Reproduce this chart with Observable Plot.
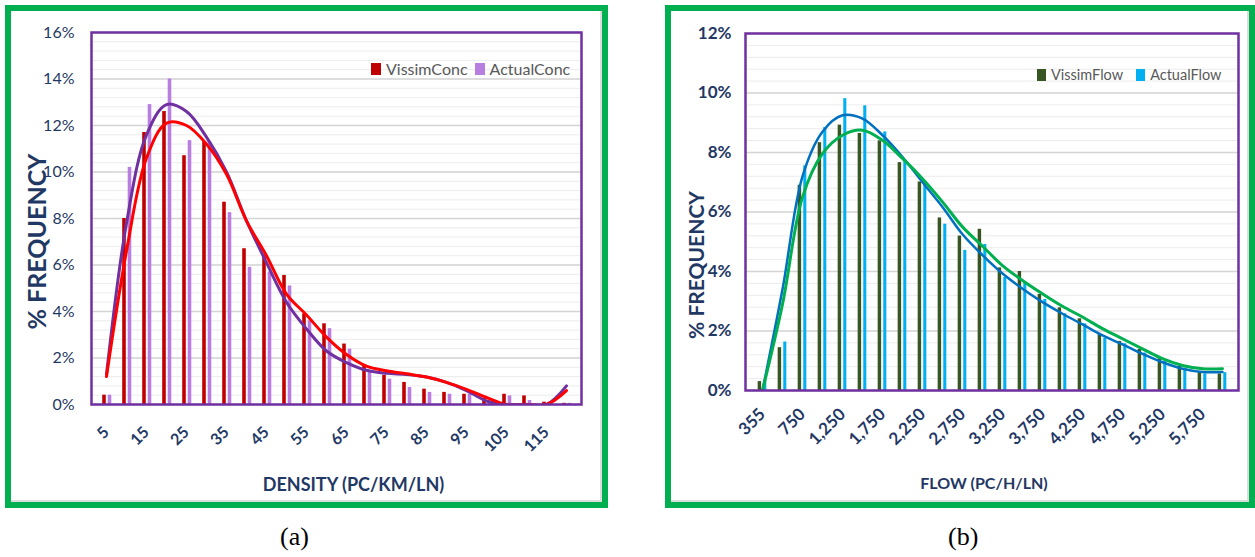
<!DOCTYPE html>
<html><head><meta charset="utf-8">
<script src="https://cdn.jsdelivr.net/npm/d3@7"></script>
<script src="https://cdn.jsdelivr.net/npm/@observablehq/plot@0.6"></script>
<style>
body{margin:0;background:#fff;}
#wrap{position:relative;width:1255px;height:557px;overflow:hidden;font-family:Lato,sans-serif;background:#fff;}
.panel{position:absolute;border:6px solid #00b050;box-sizing:border-box;}
.panel .shade{position:absolute;inset:0;border-right:2px solid #dcdcdc;border-bottom:2px solid #dcdcdc;}
.chart{position:absolute;}
.legend{position:absolute;display:flex;align-items:center;font-size:16px;color:#595959;white-space:nowrap;}
.legend .sw{display:inline-block;width:10px;height:12px;margin-right:5px;}
.legend .item{display:flex;align-items:center;}
.cap{position:absolute;font-family:"Liberation Serif",serif;font-size:26px;color:#000;}
</style>
</head><body>
<div id="wrap">
  <div class="panel" style="left:5px;top:5px;width:603px;height:503px;"><div class="shade"></div></div>
  <div class="panel" style="left:665px;top:5px;width:590px;height:503px;"><div class="shade"></div></div>
  <div class="chart" id="chartA" style="left:11px;top:11px;"></div>
  <div class="chart" id="chartB" style="left:671px;top:11px;"></div>
  <div class="legend" style="left:371px;top:59px;">
    <span class="item"><span class="sw" style="background:#c00000"></span>VissimConc</span>
    <span class="item" style="margin-left:7px"><span class="sw" style="background:#b87ee0"></span>ActualConc</span>
  </div>
  <div class="legend" style="left:1037px;top:66px;font-size:14.5px;">
    <span class="item"><span class="sw" style="background:#375623;width:9px"></span>VissimFlow</span>
    <span class="item" style="margin-left:13px"><span class="sw" style="background:#00b0f0;width:9px"></span>ActualFlow</span>
  </div>
  <div class="cap" style="left:280px;top:522px;">(a)</div>
  <div class="cap" style="left:948px;top:522px;">(b)</div>
</div>
<script>
// ---------- Data: (a) density ----------
const densityCats = [5,10,15,20,25,30,35,40,45,50,55,60,65,70,75,80,85,90,95,100,105,110,115,120];
const densityTickLabels = [5,15,25,35,45,55,65,75,85,95,105,115];
const vissimConc = [0.4,8.0,11.7,12.6,10.7,11.3,8.7,6.7,6.4,5.55,3.9,3.47,2.6,1.7,1.25,0.95,0.66,0.52,0.44,0.27,0.44,0.37,0.1,0.05];
const actualConc = [0.4,10.2,12.9,14.0,11.35,11.3,8.25,5.9,5.7,5.1,3.6,3.26,2.38,1.42,1.09,0.73,0.52,0.44,0.44,0.1,0.37,0.17,0.1,0.05];
const vissimConcFit = [1.2,6.6,10.6,12.1,12.0,11.2,9.9,7.9,6.4,4.75,3.85,2.9,2.15,1.65,1.45,1.32,1.18,0.95,0.65,0.3,0,0,0,0.6];
const actualConcFit = [1.3,7.8,11.6,12.9,12.6,11.5,10.0,7.9,6.1,4.4,3.25,2.3,1.8,1.47,1.34,1.29,1.18,0.95,0.6,0.15,0,0,0,0.8];
const densityYTicks = [0,2,4,6,8,10,12,14,16];

// ---------- Data: (b) flow ----------
const flowCats = ["355","500","750","1,000","1,250","1,500","1,750","2,000","2,250","2,500","2,750","3,000","3,250","3,500","3,750","4,000","4,250","4,500","4,750","5,000","5,250","5,500","5,750","6,000"];
const flowTickLabels = ["355","750","1,250","1,750","2,250","2,750","3,250","3,750","4,250","4,750","5,250","5,750"];
const vissimFlow = [0.3,1.44,6.9,8.33,8.92,8.64,8.39,7.66,7.01,5.8,5.19,5.42,4.12,4.0,3.23,2.78,2.41,1.88,1.65,1.38,1.07,0.82,0.62,0.56];
const actualFlow = [0.35,1.63,7.55,8.84,9.81,9.57,8.69,7.74,6.95,5.59,4.71,4.91,3.8,3.6,3.06,2.58,2.24,1.76,1.57,1.26,0.99,0.75,0.56,0.6];
const vissimFlowFit = [0,2.9,6.5,7.96,8.58,8.75,8.41,7.8,7.12,6.34,5.5,4.85,4.2,3.7,3.25,2.83,2.47,2.08,1.74,1.4,1.07,0.84,0.73,0.73];
const actualFlowFit = [0,3.4,7.2,8.7,9.25,9.14,8.58,7.85,7.0,6.17,5.25,4.55,3.93,3.42,2.97,2.58,2.22,1.85,1.55,1.23,0.95,0.73,0.62,0.62];
const flowYTicks = [0,2,4,6,8,10,12];

const navy = "#1f3864";

function makeChart(o) {
  const innerW = o.width - o.ml - o.mr;
  const bw = innerW / o.cats.length;
  const rows = (vals) => o.cats.map((c, i) => ({c, v: vals[i]}));
  const minor = d3.range(0, o.ymax + 1e-9, 0.4);
  const pctFmt = d => d + "%";
  return Plot.plot({
    width: o.width, height: o.height,
    marginLeft: o.ml, marginRight: o.mr, marginTop: o.mt, marginBottom: o.mb,
    style: {fontFamily: "Lato, sans-serif", fontSize: "16px", color: navy, background: "transparent"},
    x: {type: "band", domain: o.cats, padding: 0},
    y: {domain: [0, o.ymax]},
    marks: [
      Plot.ruleY(minor, {stroke: "#ececec", strokeWidth: 1}),
      Plot.ruleY(o.yTicks, {stroke: "#d4d4d4", strokeWidth: 1.5}),
      Plot.barY(rows(o.s1), {x: "c", y: "v", fill: o.c1, insetLeft: bw/2 + o.b1[0], insetRight: bw/2 - o.b1[1]}),
      Plot.barY(rows(o.s2), {x: "c", y: "v", fill: o.c2, insetLeft: bw/2 + o.b2[0], insetRight: bw/2 - o.b2[1]}),
      Plot.line(rows(o.f2), {x: "c", y: "v", stroke: o.lc2, strokeWidth: o.lw2, curve: "catmull-rom", clip: true}),
      Plot.line(rows(o.f1), {x: "c", y: "v", stroke: o.lc1, strokeWidth: o.lw1, curve: "catmull-rom", clip: true}),
      Plot.frame({stroke: "#7030a0", strokeWidth: 2.5}),
      Plot.axisY({ticks: o.yTicks, tickFormat: pctFmt, tickSize: 0, tickPadding: o.ytp, fontSize: o.yfs, fontWeight: o.yfw, label: null}),
      Plot.axisX({ticks: o.xTicks, tickSize: 0, tickPadding: o.xtp, tickRotate: -45, fontSize: o.xfs, fontWeight: "bold", label: null}),
      Plot.text([o.ylabel], {text: d => d, frameAnchor: "left", textAnchor: "middle", dx: o.ylx, dy: o.yly, rotate: -90, fontSize: o.ylfs, fontWeight: "bold", fill: navy}),
      Plot.text([o.xlabel], {text: d => d, frameAnchor: "bottom", textAnchor: "middle", dx: o.xlx, dy: o.xly, lineAnchor: "middle", fontSize: o.xlfs, fontWeight: "bold", fill: navy})
    ]
  });
}

document.getElementById("chartA").append(makeChart({
  width: 591, height: 491, ml: 80, mr: 21, mt: 21, mb: 98,
  cats: densityCats, ymax: 16, yTicks: densityYTicks, xTicks: densityTickLabels,
  s1: vissimConc, s2: actualConc, c1: "#c00000", c2: "#b87ee0",
  b1: [-4, 0], b2: [1.5, 5.5],
  f1: vissimConcFit, f2: actualConcFit, lc1: "#ff0000", lc2: "#7030a0", lw1: 3, lw2: 3,
  ytp: 17, yfs: 16, yfw: "normal", xtp: 25, xfs: 16,
  ylabel: "% FREQUENCY", ylx: -54, yly: 23, ylfs: 25,
  xlabel: "DENSITY (PC/KM/LN)", xlx: 17, xly: 81, xlfs: 18
}));

document.getElementById("chartB").append(makeChart({
  width: 577, height: 491, ml: 74, mr: 10, mt: 22, mb: 112,
  cats: flowCats, ymax: 12, yTicks: flowYTicks, xTicks: flowTickLabels,
  s1: vissimFlow, s2: actualFlow, c1: "#375623", c2: "#00b0f0",
  b1: [-4.6, -0.6], b2: [1, 4.6],
  f1: vissimFlowFit, f2: actualFlowFit, lc1: "#00b050", lc2: "#0070c0", lw1: 3, lw2: 2.5,
  ytp: 14, yfs: 17, yfw: "bold", xtp: 21, xfs: 17,
  ylabel: "% FREQUENCY", ylx: -48, yly: 53, ylfs: 21,
  xlabel: "FLOW (PC/H/LN)", xlx: -8, xly: 93, xlfs: 16
}));
</script>
</body></html>
